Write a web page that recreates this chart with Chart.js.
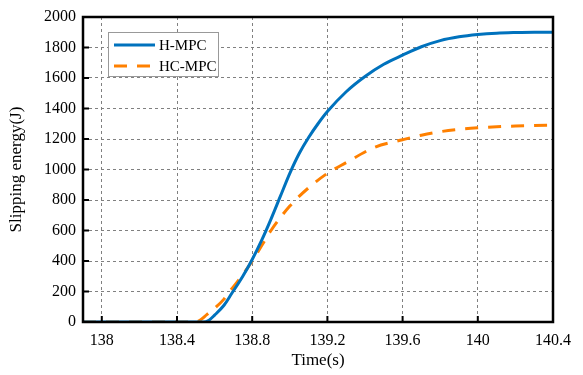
<!DOCTYPE html>
<html>
<head>
<meta charset="utf-8">
<script src="https://cdn.jsdelivr.net/npm/chart.js@4/dist/chart.umd.min.js"></script>
<style>
  html, body { margin: 0; padding: 0; background: #fff; }
  #wrap { width: 583px; height: 375px; }
</style>
</head>
<body>
<div id="wrap"><canvas id="energyChart"></canvas></div>
<script>
// time axis (s) and slipping energy (J)
const timeH = [137.9, 138.54, 138.57, 138.6, 138.65, 138.69, 138.75, 138.8, 138.85, 138.9, 138.95, 139.0,
    139.05, 139.1, 139.15, 139.2, 139.3, 139.4, 139.5, 139.6, 139.7, 139.8, 139.9, 140.0, 140.1, 140.2, 140.3, 140.4];
const energyH = [0, 0, 12, 45, 110, 185, 300, 410, 535, 675, 825, 975,
    1105, 1210, 1300, 1380, 1510, 1610, 1690, 1750, 1805, 1845, 1870, 1885, 1894, 1898, 1900, 1900];

const timeHC = [137.9, 138.5, 138.52, 138.56, 138.6, 138.65, 138.68, 138.75, 138.8, 138.85, 138.9, 138.95, 139.0,
    139.03, 139.1, 139.2, 139.3, 139.45, 139.6, 139.7, 139.8, 139.9, 140.0, 140.1, 140.2, 140.3, 140.4];
const energyHC = [0, 0, 10, 50, 90, 150, 200, 310, 400, 500, 600, 685, 760,
    800, 880, 975, 1045, 1145, 1195, 1225, 1248, 1263, 1273, 1280, 1285, 1288, 1290];

const xTicks = [138, 138.4, 138.8, 139.2, 139.6, 140, 140.4];
const yTicks = [0, 200, 400, 600, 800, 1000, 1200, 1400, 1600, 1800, 2000];

const seriesNames = ['H-MPC', 'HC-MPC'];

const FONT = '"Liberation Serif", "Times New Roman", serif';

function toPoints(xs, ys) {
    return xs.map((x, i) => ({ x: x, y: ys[i] }));
}

// frame, inward ticks and the legend box
const framePlugin = {
    id: 'frame',
    afterDraw(chart) {
        const ctx = chart.ctx;
        const a = chart.chartArea;
        const xs = chart.scales.x;
        const ys = chart.scales.y;
        ctx.save();
        ctx.strokeStyle = '#000';
        ctx.lineWidth = 2;
        ctx.beginPath();
        xTicks.forEach(v => {
            const px = xs.getPixelForValue(v);
            ctx.moveTo(px, a.bottom);
            ctx.lineTo(px, a.bottom - 6);
        });
        yTicks.forEach(v => {
            const py = ys.getPixelForValue(v);
            ctx.moveTo(a.left, py);
            ctx.lineTo(a.left + 6, py);
        });
        ctx.stroke();
        ctx.lineWidth = 2.5;
        ctx.strokeRect(a.left, a.top, a.right - a.left, a.bottom - a.top);

        // legend
        const lx = a.left + 25, ly = a.top + 15, lw = 110, lh = 44;
        ctx.fillStyle = '#fff';
        ctx.fillRect(lx, ly, lw, lh);
        ctx.strokeStyle = '#999';
        ctx.lineWidth = 1;
        ctx.strokeRect(lx + 0.5, ly + 0.5, lw, lh);
        ctx.font = '15px ' + FONT;
        ctx.textBaseline = 'middle';
        chart.data.datasets.forEach((ds, i) => {
            const yy = ly + 13 + i * 21;
            ctx.strokeStyle = ds.borderColor;
            ctx.lineWidth = ds.borderWidth;
            ctx.setLineDash(ds.borderDash || []);
            ctx.beginPath();
            ctx.moveTo(lx + 6, yy);
            ctx.lineTo(lx + 47, yy);
            ctx.stroke();
            ctx.setLineDash([]);
            ctx.fillStyle = '#000';
            ctx.fillText(ds.label, lx + 51, yy + 1);
        });
        ctx.restore();
    }
};

const ctx = document.getElementById('energyChart').getContext('2d');
new Chart(ctx, {
    type: 'line',
    data: {
        datasets: [{
            label: seriesNames[0],
            data: toPoints(timeH, energyH),
            borderColor: '#0072BD',
            borderWidth: 3,
            pointRadius: 0,
            cubicInterpolationMode: 'monotone'
        }, {
            label: seriesNames[1],
            data: toPoints(timeHC, energyHC),
            borderColor: '#FF8000',
            borderWidth: 3,
            borderDash: [13, 10],
            pointRadius: 0,
            cubicInterpolationMode: 'monotone'
        }]
    },
    options: {
        responsive: true,
        maintainAspectRatio: false,
        animation: false,
        layout: { padding: { top: 17, right: 30, left: 2, bottom: 0 } },
        plugins: {
            legend: { display: false },
            tooltip: { enabled: false }
        },
        scales: {
            x: {
                type: 'linear',
                min: 137.9,
                max: 140.4,
                afterBuildTicks: scale => {
                    scale.ticks = xTicks.map(v => ({ value: v }));
                },
                afterFit: scale => { scale.height = 53; },
                grid: { color: '#808080', lineWidth: 1, drawTicks: false },
                border: { display: false, dash: [3, 3] },
                ticks: {
                    color: '#000',
                    padding: 9,
                    maxRotation: 0,
                    font: { family: FONT, size: 16 },
                    callback: v => String(+v.toFixed(1))
                },
                title: {
                    display: true,
                    text: 'Time(s)',
                    color: '#000',
                    padding: { top: 2 },
                    font: { family: FONT, size: 17 }
                }
            },
            y: {
                min: 0,
                max: 2000,
                afterBuildTicks: scale => {
                    scale.ticks = yTicks.map(v => ({ value: v }));
                },
                afterFit: scale => { scale.width = 81; },
                grid: { color: '#808080', lineWidth: 1, drawTicks: false },
                border: { display: false, dash: [3, 3] },
                ticks: {
                    color: '#000',
                    padding: 7,
                    font: { family: FONT, size: 16 },
                    callback: v => String(v)
                },
                title: {
                    display: true,
                    text: 'Slipping energy(J)',
                    color: '#000',
                    padding: { bottom: 4 },
                    font: { family: FONT, size: 17 }
                }
            }
        }
    },
    plugins: [framePlugin]
});
</script>
</body>
</html>
